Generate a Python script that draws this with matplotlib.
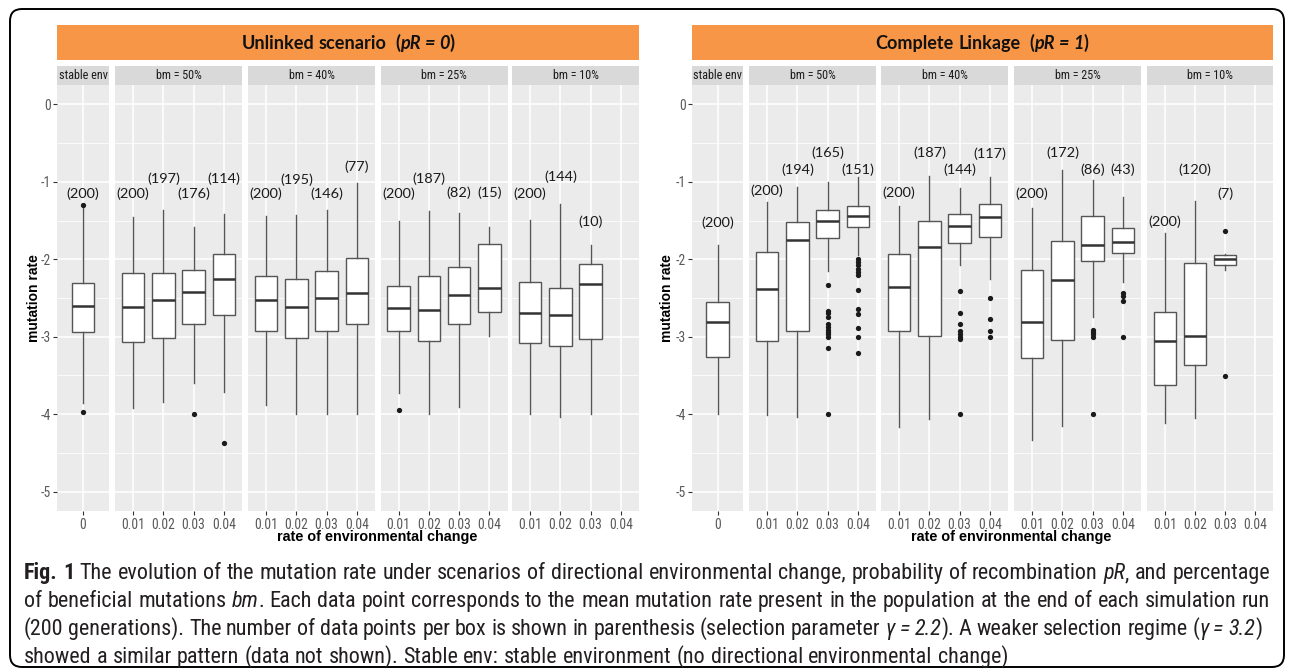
import os
import matplotlib
matplotlib.use('Agg')
import matplotlib.pyplot as plt
from matplotlib import font_manager
from matplotlib.font_manager import FontProperties
from matplotlib.patches import Rectangle, FancyBboxPatch
from matplotlib.transforms import IdentityTransform
import numpy as np

# ---------------- data ----------------
facets = ['stable env', 'bm = 50%', 'bm = 40%', 'bm = 25%', 'bm = 10%']
rate_labels = [['0'], ['0.01', '0.02', '0.03', '0.04'], ['0.01', '0.02', '0.03', '0.04'],
               ['0.01', '0.02', '0.03', '0.04'], ['0.01', '0.02', '0.03', '0.04']]
y_tick_values = [-5, -4, -3, -2, -1, 0]
y_tick_labels = ['-5', '-4', '-3', '-2', '-1', '0']

# Unlinked scenario (pR = 0)
unl_hi = [[-1.32], [-1.45, -1.37, -1.58, -1.42], [-1.44, -1.43, -1.36, -1.02],
          [-1.50, -1.38, -1.40, -1.58], [-1.49, -1.28, -1.81, None]]
unl_q3 = [[-2.30], [-2.18, -2.18, -2.14, -1.93], [-2.21, -2.25, -2.15, -1.98],
          [-2.34, -2.21, -2.10, -1.80], [-2.29, -2.37, -2.06, None]]
unl_med = [[-2.60], [-2.61, -2.52, -2.42, -2.26], [-2.53, -2.61, -2.50, -2.44],
           [-2.63, -2.66, -2.46, -2.37], [-2.70, -2.72, -2.32, None]]
unl_q1 = [[-2.94], [-3.07, -3.01, -2.83, -2.72], [-2.92, -3.01, -2.92, -2.84],
          [-2.93, -3.06, -2.83, -2.68], [-3.08, -3.12, -3.03, None]]
unl_lo = [[-3.86], [-3.92, -3.84, -3.60, -3.71], [-3.88, -4.00, -4.00, -4.00],
          [-3.73, -4.00, -3.91, -2.99], [-4.00, -4.04, -4.00, None]]
unl_out = [[[-1.30, -3.97]], [[], [], [-4.00], [-4.37]], [[], [], [], []],
           [[-3.94], [], [], []], [[], [], [], None]]
unl_n = [[200], [200, 197, 176, 114], [200, 195, 146, 77], [200, 187, 82, 15], [200, 144, 10, None]]
unl_label_y = [[-1.16], [-1.16, -0.96, -1.15, -0.96], [-1.16, -0.97, -1.15, -0.81],
               [-1.15, -0.96, -1.14, -1.14], [-1.15, -0.93, -1.52, None]]

# Complete linkage (pR = 1)
lnk_hi = [[-1.81], [-1.26, -1.07, -1.00, -0.94], [-1.31, -0.93, -1.08, -0.94],
          [-1.34, -0.85, -0.98, -1.19], [-1.66, -1.25, -1.93, None]]
lnk_q3 = [[-2.55], [-1.91, -1.52, -1.37, -1.31], [-1.93, -1.51, -1.42, -1.28],
          [-2.14, -1.77, -1.44, -1.59], [-2.68, -2.05, -1.94, None]]
lnk_med = [[-2.81], [-2.38, -1.75, -1.51, -1.44], [-2.36, -1.84, -1.57, -1.46],
           [-2.81, -2.27, -1.81, -1.78], [-3.06, -2.99, -2.00, None]]
lnk_q1 = [[-3.26], [-3.05, -2.92, -1.72, -1.58], [-2.93, -2.99, -1.79, -1.71],
          [-3.27, -3.04, -2.02, -1.92], [-3.62, -3.36, -2.08, None]]
lnk_lo = [[-4.00], [-4.01, -4.03, -2.15, -1.95], [-4.16, -4.06, -2.07, -2.25],
          [-4.33, -4.15, -2.74, -2.29], [-4.11, -4.05, -2.14, None]]
lnk_out = [[[]],
           [[], [],
            [-2.33, -2.67, -2.70, -2.75, -2.83, -2.88, -2.91, -2.94, -2.97, -3.00, -3.15, -4.00],
            [-2.00, -2.04, -2.08, -2.12, -2.16, -2.20, -2.40, -2.64, -2.71, -2.89, -3.00, -3.21]],
           [[], [], [-2.41, -2.70, -2.83, -2.92, -2.97, -3.00, -3.03, -4.00], [-2.50, -2.77, -2.92, -3.00]],
           [[], [], [-2.91, -2.94, -2.97, -3.00, -4.00], [-2.43, -2.48, -2.54, -3.00]],
           [[], [], [-1.64, -3.51], None]]
lnk_n = [[200], [200, 194, 165, 151], [200, 187, 144, 117], [200, 172, 86, 43], [200, 120, 7, None]]
lnk_label_y = [[-1.53], [-1.12, -0.84, -0.62, -0.84], [-1.14, -0.62, -0.84, -0.64],
               [-1.15, -0.62, -0.84, -0.84], [-1.52, -0.84, -1.15, None]]

header_titles = [[('Unlinked scenario  (', 'b'), ('pR = 0', 'bi'), (')', 'b')],
                 [('Complete Linkage  (', 'b'), ('pR = 1', 'bi'), (')', 'b')]]
x_title = 'rate of environmental change'
y_title = 'mutation rate'
caption_lines = [
    [('Fig. 1', 'b'),
     (' The evolution of the mutation rate under scenarios of directional environmental change, probability of recombination ', 'r'),
     ('pR', 'i'), (', and percentage', 'r')],
    [('of beneficial mutations ', 'r'), ('bm', 'i'),
     ('. Each data point corresponds to the mean mutation rate present in the population at the end of each simulation run', 'r')],
    [('(200 generations). The number of data points per box is shown in parenthesis (selection parameter ', 'r'),
     ('\u03b3 = 2.2', 'i'), ('). A weaker selection regime (', 'r'),
     ('\u03b3 = 3.2', 'i'), (')', 'r')],
    [('showed a similar pattern (data not shown). Stable env: stable environment (no directional environmental change)', 'r')],
]

# ---------------- fonts ----------------
_fl = font_manager.fontManager.ttflist
_names = {f.name for f in _fl}
ARIAL = 'Liberation Sans' if 'Liberation Sans' in _names else 'DejaVu Sans'
CALIBRI = 'Lato' if 'Lato' in _names else 'DejaVu Sans'
plt.rcParams['font.family'] = [ARIAL, 'DejaVu Sans']

_WMAP = {'normal': 400, 'regular': 400, 'book': 400, 'medium': 500, 'semibold': 600,
         'demibold': 600, 'demi': 600, 'bold': 700, 'heavy': 800, 'extra bold': 800,
         'black': 900, 'light': 300, 'ultralight': 200}

def _wnum(w):
    if isinstance(w, (int, float)):
        return int(w)
    return _WMAP.get(str(w).lower(), 400)

def _is_cond(f):
    key = (f.name + ' ' + os.path.basename(f.fname)).lower()
    st = f.stretch
    cs = (isinstance(st, str) and 'condensed' in st.lower()) or (isinstance(st, (int, float)) and st < 500)
    return ('narrow' in key or 'condensed' in key or cs) and f.fname.lower().endswith(('.ttf', '.otf'))

_groups = {}
for _f in _fl:
    if _is_cond(_f):
        _groups.setdefault(_f.name, []).append(_f)

def _pick(entries, bold, italic):
    best, bs = None, 1e9
    for f in entries:
        it = f.style in ('italic', 'oblique')
        sc = abs(_wnum(f.weight) - (700 if bold else 400)) + (0 if it == italic else 1000)
        key = (os.path.basename(f.fname)).lower()
        if 'extra' in key or 'ultra' in key or 'semi' in key:
            sc += 60
        if sc < bs:
            best, bs = f, sc
    return best, bs

_pref = ['Liberation Sans Narrow', 'Arial Narrow', 'Roboto Condensed', 'Open Sans Condensed',
         'Noto Sans Condensed', 'Noto Sans', 'DejaVu Sans Condensed', 'DejaVu Sans']
COND = None
best_score = None
for name, ents in _groups.items():
    r, sr = _pick(ents, False, False)
    b, sb = _pick(ents, True, False)
    i, si = _pick(ents, False, True)
    bi, sbi = _pick(ents, True, True)
    score = (sr < 100) * 4 + (sb < 100) * 3 + (si < 100) * 2 + (sbi < 100)
    pr = -_pref.index(name) if name in _pref else -100
    cand = (score, pr)
    if best_score is None or cand > best_score:
        best_score = cand
        COND = {'r': (r, sr), 'b': (b, sb), 'i': (i, si), 'bi': (bi, sbi)}

_STYLE = {'r': ('normal', 'normal'), 'b': ('bold', 'normal'), 'i': ('normal', 'italic'), 'bi': ('bold', 'italic')}

def FP(kind, size, family='cond'):
    w, st = _STYLE[kind]
    if family == 'cond' and COND is not None:
        ent, sc = COND[kind]
        if ent is not None and sc < 100:
            return FontProperties(fname=ent.fname, size=size)
        if kind in ('b', 'bi') and COND['r'][1] < 100:
            return FontProperties(family=ARIAL, weight=w, style=st, size=size)
    fam = CALIBRI if family == 'calibri' else ARIAL
    return FontProperties(family=[fam, 'DejaVu Sans'], weight=w, style=st, size=size)

# ---------------- layout (pixels) ----------------
W, H = 1290, 670
fig = plt.figure(figsize=(W / 100, H / 100), dpi=100)
fig.patch.set_facecolor('white')
renderer = fig.canvas.get_renderer()

def seg_width(txt, fp):
    t1 = fig.text(0, 0, '|' + txt + '|', fontproperties=fp)
    w1 = t1.get_window_extent(renderer).width
    t1.remove()
    t2 = fig.text(0, 0, '||', fontproperties=fp)
    w2 = t2.get_window_extent(renderer).width
    t2.remove()
    return w1 - w2

def fit_size(txt, kind, target, family='cond'):
    return 10.0 * target / seg_width(txt, FP(kind, 10.0, family))

TICK_SIZE = fit_size('0.01', 'r', 23.5)
STRIP_SIZE = fit_size('bm = 50%', 'r', 46)
LABEL_SIZE = fit_size('(200)', 'r', 33, 'calibri')
YTITLE_SIZE = fit_size(y_title, 'b', 88, 'arial')
XTITLE_SIZE = fit_size(x_title, 'b', 200, 'arial')

PANEL_TOP, PANEL_BOT = 85, 511
STRIP_TOP = 66
HEAD_TOP, HEAD_BOT = 25, 60
scen_facet_px = [
    [(57, 109), (115, 242), (248, 375), (380.5, 507.5), (512, 639)],
    [(692, 743), (749, 876), (881, 1008), (1014, 1141), (1147, 1273)],
]
ytitle_x = [34, 667]
xtitle_x = [377, 1011]
XTITLE_Y = 537

def fx(x):
    return x / W

def fy(y):
    return 1 - y / H

BOX_EDGE = '#555555'
TICK_COLOR = '#595959'
scen_data = [
    (unl_hi, unl_q3, unl_med, unl_q1, unl_lo, unl_out, unl_n, unl_label_y),
    (lnk_hi, lnk_q3, lnk_med, lnk_q1, lnk_lo, lnk_out, lnk_n, lnk_label_y),
]

for s, (hi, q3, med, q1, lo, out, nn, ly) in enumerate(scen_data):
    fpx = scen_facet_px[s]
    unit = (fpx[1][1] - fpx[1][0]) / 4.2
    for f, (x0, x1) in enumerate(fpx):
        ax = fig.add_axes([fx(x0), fy(PANEL_BOT), (x1 - x0) / W, (PANEL_BOT - PANEL_TOP) / H])
        ax.set_facecolor('#EBEBEB')
        for sp in ax.spines.values():
            sp.set_visible(False)
        ncat = len(rate_labels[f])
        ax.set_axisbelow(True)

        for i in range(ncat):
            if med[f][i] is None:
                continue
            st = dict(med=med[f][i], q1=q1[f][i], q3=q3[f][i],
                      whislo=lo[f][i], whishi=hi[f][i], fliers=np.array(out[f][i]))
            ax.bxp([st], positions=[i + 1], widths=0.75, patch_artist=True, showcaps=False,
                   manage_ticks=False,
                   boxprops=dict(facecolor='white', edgecolor=BOX_EDGE, linewidth=1.0),
                   whiskerprops=dict(color=BOX_EDGE, linewidth=1.0),
                   medianprops=dict(color='#333333', linewidth=1.8, solid_capstyle='butt'),
                   flierprops=dict(marker='o', markerfacecolor='#1a1a1a', markeredgecolor='none',
                                   markersize=3.8))
            ax.text(i + 1, ly[f][i], '(%d)' % nn[f][i], ha='center', va='center',
                    fontproperties=FP('r', LABEL_SIZE, 'calibri'), color='#1a1a1a', clip_on=False)

        if ncat == 1:
            half = (x1 - x0) / 2 / unit
            ax.set_xlim(1 - half, 1 + half)
        else:
            ax.set_xlim(0.4, ncat + 0.6)
        ax.set_ylim(-5.25, 0.25)
        ax.set_xticks(range(1, ncat + 1))
        ax.set_xticklabels(rate_labels[f], fontproperties=FP('r', TICK_SIZE), color=TICK_COLOR)
        ax.set_yticks(y_tick_values)
        ax.set_yticks(np.arange(-4.5, 0, 1.0), minor=True)
        ax.tick_params(axis='x', length=3, width=0.8, color='#333333', pad=2)
        ax.tick_params(axis='y', which='minor', length=0)
        if f == 0:
            ax.set_yticklabels(y_tick_labels, fontproperties=FP('r', TICK_SIZE), color=TICK_COLOR)
            ax.tick_params(axis='y', which='major', length=3, width=0.8, color='#333333', pad=1.5)
        else:
            ax.tick_params(axis='y', which='major', left=False, labelleft=False)
        ax.grid(which='major', color='white', linewidth=1.1)
        ax.grid(which='minor', axis='y', color='white', linewidth=0.55)

        # strip
        fig.patches.append(Rectangle((fx(x0), fy(PANEL_TOP)), (x1 - x0) / W, (PANEL_TOP - STRIP_TOP) / H,
                                     transform=fig.transFigure, facecolor='#D9D9D9', edgecolor='none'))
        fig.text(fx((x0 + x1) / 2), fy((PANEL_TOP + STRIP_TOP) / 2), facets[f], ha='center', va='center',
                 fontproperties=FP('r', STRIP_SIZE), color='#1a1a1a')

    # orange header
    hx0, hx1 = fpx[0][0], fpx[-1][1]
    fig.patches.append(Rectangle((fx(hx0), fy(HEAD_BOT)), (hx1 - hx0) / W, (HEAD_BOT - HEAD_TOP) / H,
                                 transform=fig.transFigure, facecolor='#F79646', edgecolor='none'))

    fig.text(fx(ytitle_x[s]), fy((PANEL_TOP + PANEL_BOT) / 2), y_title, rotation=90, ha='center', va='center',
             fontproperties=FP('b', YTITLE_SIZE, 'arial'), color='black')
    fig.text(fx(xtitle_x[s]), fy(XTITLE_Y), x_title, ha='center', va='center',
             fontproperties=FP('b', XTITLE_SIZE, 'arial'), color='black')

# ---------------- rich text ----------------
def line_width(segs, size, family):
    return sum(seg_width(t, FP(k, size, family)) for t, k in segs)

def draw_line(segs, x, y, size, family, color, target=None):
    extra = 0.0
    if target is not None:
        nat = line_width(segs, size, family)
        nsp = sum(t.count(' ') for t, _ in segs)
        if nsp:
            extra = (target - nat) / nsp
    for t, k in segs:
        fp = FP(k, size, family)
        sw = seg_width(' ', fp)
        parts = t.split(' ')
        for j, p in enumerate(parts):
            if p:
                fig.text(fx(x), fy(y), p, ha='left', va='baseline', fontproperties=fp, color=color)
                x += seg_width(p, fp)
            if j < len(parts) - 1:
                x += sw + extra

# headers
header_center = [348, 982]
for s in range(2):
    size = 12.0
    wd = line_width(header_titles[s], size, 'calibri')
    size = size * 212 / wd
    wd = line_width(header_titles[s], size, 'calibri')
    draw_line(header_titles[s], header_center[s] - wd / 2, 49, size, 'calibri', '#111111')

# caption
cap_size = 12.0
cw = max(line_width(caption_lines[k], cap_size, 'cond') for k in range(3))
cap_size = cap_size * 1244 / cw
cap_baselines = [579, 607, 635, 663]
cap_targets = [1246, 1246, 1238, None]
for segs, yb, tg in zip(caption_lines, cap_baselines, cap_targets):
    draw_line(segs, 24, yb, cap_size, 'cond', '#231F20', target=tg)

# outer rounded border
border = FancyBboxPatch((10, H - 667), 1274, 658, boxstyle='round,pad=0,rounding_size=12',
                        transform=IdentityTransform(), facecolor='none', edgecolor='black', linewidth=1.4)
fig.patches.append(border)

fig.savefig('out.png', dpi=100)
